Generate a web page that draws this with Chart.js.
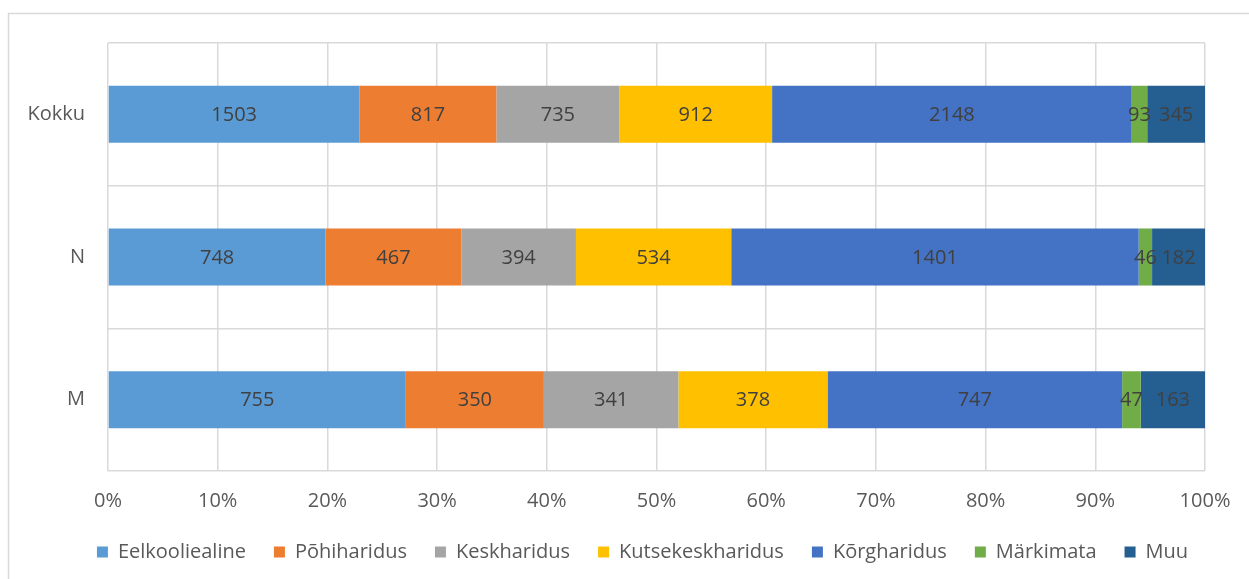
<!DOCTYPE html>
<html lang="et">
<head>
    <meta charset="UTF-8">
    <title>Haridus</title>
    <script src="https://cdn.jsdelivr.net/npm/chart.js"></script>
    <style>
        body {
            margin: 0;
            background: #fff;
        }
        .wrap {
            width: 1249px;
            height: 579px;
        }
    </style>
</head>
<body>
    <div class="wrap">
        <canvas id="myChart"></canvas>
    </div>

    <script>
        // andmed
        const categories = ['Kokku', 'N', 'M'];
        const eelkooliealine = [1503, 748, 755];
        const pohiharidus = [817, 467, 350];
        const keskharidus = [735, 394, 341];
        const kutsekeskharidus = [912, 534, 378];
        const korgharidus = [2148, 1401, 747];
        const markimata = [93, 46, 47];
        const muu = [345, 182, 163];
        const xTicks = [0, 10, 20, 30, 40, 50, 60, 70, 80, 90, 100];

        const series = [
            { label: 'Eelkooliealine', data: eelkooliealine, color: '#5B9BD5' },
            { label: 'Põhiharidus', data: pohiharidus, color: '#ED7D31' },
            { label: 'Keskharidus', data: keskharidus, color: '#A5A5A5' },
            { label: 'Kutsekeskharidus', data: kutsekeskharidus, color: '#FFC000' },
            { label: 'Kõrgharidus', data: korgharidus, color: '#4472C4' },
            { label: 'Märkimata', data: markimata, color: '#70AD47' },
            { label: 'Muu', data: muu, color: '#255E91' }
        ];

        // 100% virna jaoks summad
        const totals = categories.map((_, i) => series.reduce((s, d) => s + d.data[i], 0));

        const FONT = '"Open Sans", "Noto Sans", sans-serif';
        const gridColor = '#d9d9d9';

        // väärtused ribade keskele
        const valueLabels = {
            id: 'valueLabels',
            afterDatasetsDraw(chart) {
                const ctx = chart.ctx;
                ctx.save();
                ctx.font = '20px ' + FONT;
                ctx.fillStyle = '#404040';
                ctx.textAlign = 'center';
                ctx.textBaseline = 'middle';
                chart.data.datasets.forEach((ds, di) => {
                    const meta = chart.getDatasetMeta(di);
                    meta.data.forEach((bar, i) => {
                        ctx.fillText(String(ds.raw[i]), (bar.x + bar.base) / 2, bar.y + 1);
                    });
                });
                ctx.restore();
            }
        };

        // diagrammi raam + legendi nihe paremale
        const frame = {
            id: 'frame',
            afterLayout(chart) {
                chart.legend.left += 40;
                chart.legend.right += 40;
            },
            beforeDraw(chart) {
                const ctx = chart.ctx;
                ctx.save();
                ctx.strokeStyle = gridColor;
                ctx.lineWidth = 1.5;
                ctx.beginPath();
                ctx.moveTo(8.5, 600);
                ctx.lineTo(8.5, 13.5);
                ctx.lineTo(1260, 13.5);
                ctx.stroke();
                ctx.restore();
            }
        };

        const ctx = document.getElementById('myChart').getContext('2d');
        new Chart(ctx, {
            type: 'bar',
            data: {
                labels: categories,
                datasets: series.map(s => ({
                    label: s.label,
                    raw: s.data,
                    data: s.data.map((v, i) => v / totals[i] * 100),
                    backgroundColor: s.color,
                    borderWidth: 0,
                    categoryPercentage: 1,
                    barPercentage: 0.4
                }))
            },
            options: {
                indexAxis: 'y',
                responsive: true,
                maintainAspectRatio: false,
                animation: false,
                layout: {
                    padding: { top: 43, left: 0, right: 44, bottom: 7 }
                },
                scales: {
                    x: {
                        stacked: true,
                        min: 0,
                        max: 100,
                        afterBuildTicks: (scale) => {
                            scale.ticks = xTicks.map(v => ({ value: v }));
                        },
                        afterFit: (scale) => { scale.height = 43; },
                        grid: { color: gridColor, lineWidth: 1.5, drawTicks: false },
                        border: { display: false },
                        ticks: {
                            padding: 18,
                            color: '#595959',
                            font: { family: FONT, size: 20 },
                            callback: v => v + '%'
                        }
                    },
                    y: {
                        stacked: true,
                        afterFit: (scale) => { scale.width = 108; },
                        grid: { color: gridColor, lineWidth: 1.5, drawTicks: false, offset: true },
                        border: { display: false },
                        ticks: {
                            padding: 23,
                            color: '#595959',
                            font: { family: FONT, size: 20 }
                        }
                    }
                },
                plugins: {
                    legend: {
                        position: 'bottom',
                        labels: {
                            boxWidth: 11,
                            boxHeight: 11,
                            padding: 28,
                            color: '#595959',
                            font: { family: FONT, size: 20 }
                        }
                    },
                    tooltip: { enabled: false }
                }
            },
            plugins: [frame, valueLabels]
        });
    </script>
</body>
</html>
